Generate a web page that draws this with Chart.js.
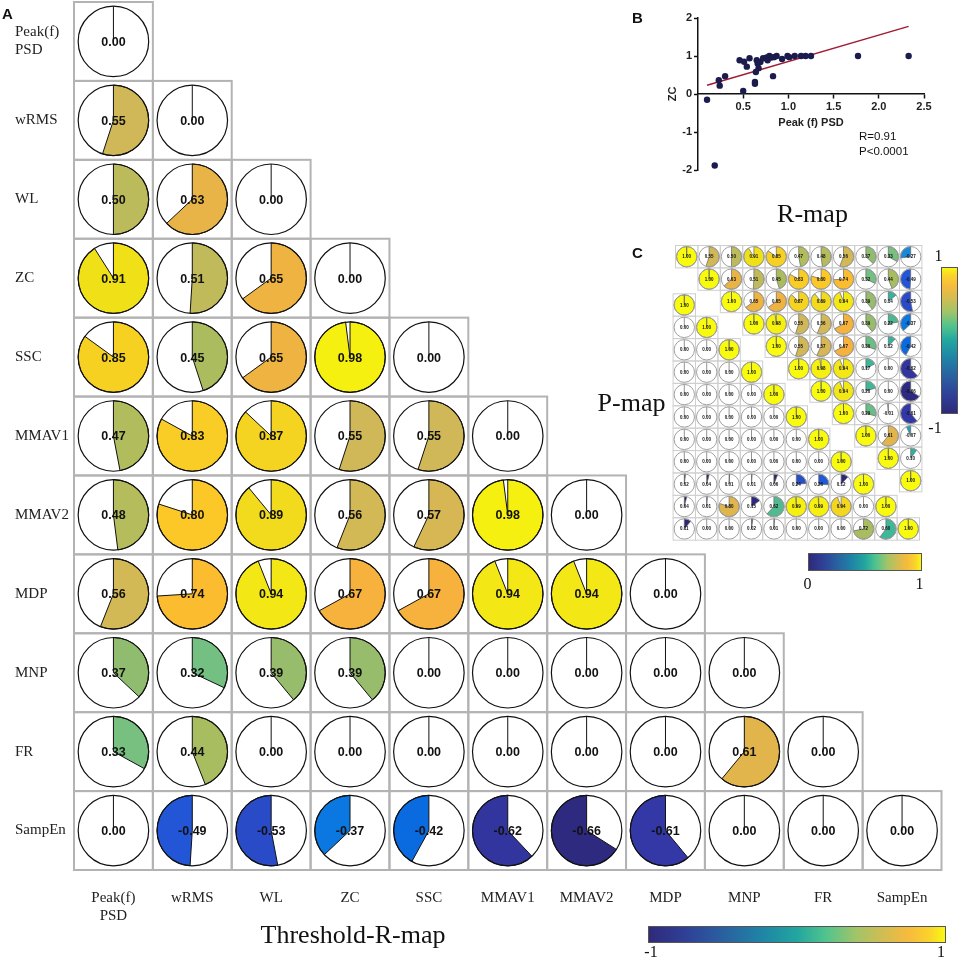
<!DOCTYPE html>
<html>
<head>
<meta charset="utf-8">
<script src="https://cdn.jsdelivr.net/npm/chart.js@4.4.1/dist/chart.umd.min.js"></script>
<style>
  html, body { margin: 0; padding: 0; background: #fff; }
  #page { position: relative; width: 960px; height: 961px; overflow: hidden; }
  #page canvas { position: absolute; }
  .txt { position: absolute; white-space: nowrap; line-height: 1; color: #111; transform: translate(-50%, -50%); }
  .txt.left { transform: translate(0, -50%); }
  .cbar { position: absolute; box-sizing: border-box; border: 1px solid #555; }
</style>
</head>
<body>
<div id="page">
  <canvas id="chartA" width="960" height="961" style="left:0px;top:0px"></canvas>
  <canvas id="chartB" width="320" height="190" style="left:640px;top:0px"></canvas>
  <canvas id="chartC" width="270" height="310" style="left:660px;top:240px"></canvas>
</div>
<script>
// ==== DATA ====
const features = ["Peak(f) PSD", "wRMS", "WL", "ZC", "SSC", "MMAV1", "MMAV2", "MDP", "MNP", "FR", "SampEn"];
const featureTicks = [["Peak(f)", "PSD"], "wRMS", "WL", "ZC", "SSC", "MMAV1", "MMAV2", "MDP", "MNP", "FR", "SampEn"];

// A. Threshold-R-map, lower triangle (row r has columns 0..r)
const thresholdR = [
  [0.00],
  [0.55, 0.00],
  [0.50, 0.63, 0.00],
  [0.91, 0.51, 0.65, 0.00],
  [0.85, 0.45, 0.65, 0.98, 0.00],
  [0.47, 0.83, 0.87, 0.55, 0.55, 0.00],
  [0.48, 0.80, 0.89, 0.56, 0.57, 0.98, 0.00],
  [0.56, 0.74, 0.94, 0.67, 0.67, 0.94, 0.94, 0.00],
  [0.37, 0.32, 0.39, 0.39, 0.00, 0.00, 0.00, 0.00, 0.00],
  [0.33, 0.44, 0.00, 0.00, 0.00, 0.00, 0.00, 0.00, 0.61, 0.00],
  [0.00, -0.49, -0.53, -0.37, -0.42, -0.62, -0.66, -0.61, 0.00, 0.00, 0.00],
];

// B. Peak (f) PSD vs ZC
const peakPsd = [0.10, 0.185, 0.23, 0.24, 0.30, 0.46, 0.51, 0.50, 0.54, 0.57, 0.63, 0.63, 0.64, 0.65, 0.66, 0.67, 0.69,
  0.72, 0.76, 0.77, 0.79, 0.81, 0.83, 0.84, 0.87, 0.93, 0.99, 1.01, 1.07, 1.14, 1.19, 1.25, 1.77, 2.33];
const zcValues = [-0.15, -1.88, 0.36, 0.22, 0.47, 0.89, 0.85, 0.08, 0.72, 0.94, 0.32, 0.27, 0.58, 0.89, 0.80, 0.68, 0.84,
  0.94, 0.96, 0.89, 1.00, 0.96, 0.47, 0.97, 1.00, 0.92, 1.00, 0.97, 1.00, 1.00, 1.00, 1.00, 1.00, 1.00];
const fitX = [0.10, 2.33];
const fitY = [0.23, 1.78];
const xTicksB = [0.5, 1.0, 1.5, 2.0, 2.5];
const yTicksB = [-2, -1, 0, 1, 2];

// C. R-map, upper triangle (row r starts at its diagonal)
const rMapRows = [
  [1.00, 0.55, 0.50, 0.91, 0.85, 0.47, 0.48, 0.56, 0.37, 0.33, -0.27],
  [1.00, 0.63, 0.51, 0.45, 0.83, 0.80, 0.74, 0.32, 0.44, -0.49],
  [1.00, 0.65, 0.65, 0.87, 0.89, 0.94, 0.39, 0.14, -0.53],
  [1.00, 0.98, 0.55, 0.56, 0.67, 0.39, 0.22, -0.37],
  [1.00, 0.55, 0.57, 0.67, 0.30, 0.12, -0.42],
  [1.00, 0.98, 0.94, 0.17, 0.00, -0.62],
  [1.00, 0.94, 0.20, 0.00, -0.66],
  [1.00, 0.29, -0.01, -0.61],
  [1.00, 0.61, -0.07],
  [1.00, 0.10],
  [1.00],
];
// C. P-map, lower triangle (row i ends at its diagonal)
const pMapRows = [
  [1.00],
  [0.00, 1.00],
  [0.00, 0.00, 1.00],
  [0.00, 0.00, 0.00, 1.00],
  [0.00, 0.00, 0.00, 0.00, 1.00],
  [0.00, 0.00, 0.00, 0.00, 0.00, 1.00],
  [0.00, 0.00, 0.00, 0.00, 0.00, 0.00, 1.00],
  [0.00, 0.00, 0.00, 0.00, 0.00, 0.00, 0.00, 1.00],
  [0.02, 0.04, 0.01, 0.01, 0.06, 0.24, 0.26, 0.12, 1.00],
  [0.04, 0.01, 0.80, 0.15, 0.62, 0.99, 0.99, 0.94, 0.00, 1.00],
  [0.11, 0.00, 0.00, 0.02, 0.01, 0.00, 0.00, 0.00, 0.72, 0.60, 1.00],
];

// colour map for the pies, position 0..1
const cmapStops = [0, 0.17, 0.195, 0.235, 0.255, 0.29, 0.315, 0.365, 0.45, 0.55, 0.6, 0.665, 0.685, 0.72, 0.74,
  0.775, 0.815, 0.835, 0.87, 0.9, 0.935, 0.955, 0.99, 1];
const cmapColors = ["#2b1f6b", "#2d2a80", "#3438a6", "#2a4bc8", "#2256d6", "#0a6ae0", "#0a78e0", "#1a88d8", "#18a0c0",
  "#30b0a0", "#40b898", "#78c080", "#90bc70", "#a8bc60", "#b4bc5c", "#d0b858", "#e8b448", "#f6b23c", "#fcbc30",
  "#fcc828", "#f4d420", "#f0e018", "#f6f010", "#f9fb0e"];
// colour bars
const cbarStops = [0, 0.12, 0.25, 0.38, 0.5, 0.6, 0.7, 0.8, 0.88, 0.95, 1];
const cbarColors = ["#2f2a7a", "#2f3f96", "#2a60a0", "#1f84a6", "#22a6a0", "#52c48c", "#a2c468", "#d6bc50",
  "#f8bb3c", "#fad42a", "#f8f812"];

document.addEventListener("DOMContentLoaded", function () {
  Chart.defaults.font.family = '"Liberation Sans", Arial, sans-serif';
  renderThresholdMap();
  renderScatter();
  renderSmallMaps();
  renderDecor();
});

// ==== HELPERS ====
function hexToRgb(h) {
  return [parseInt(h.slice(1, 3), 16), parseInt(h.slice(3, 5), 16), parseInt(h.slice(5, 7), 16)];
}

function colorAt(t) {
  t = Math.max(0, Math.min(1, t));
  let i = 1;
  while (i < cmapStops.length - 1 && cmapStops[i] < t) i++;
  const a = hexToRgb(cmapColors[i - 1]), b = hexToRgb(cmapColors[i]);
  const f = (t - cmapStops[i - 1]) / (cmapStops[i] - cmapStops[i - 1] || 1);
  const c = a.map((v, k) => Math.round(v + (b[k] - v) * f));
  return `rgb(${c[0]},${c[1]},${c[2]})`;
}

function gradientCss(dir) {
  return `linear-gradient(${dir}, ${cbarStops.map((s, i) => cbarColors[i] + " " + (s * 100).toFixed(1) + "%").join(", ")})`;
}

function cellSize(chart, meta) {
  const xs = chart.scales[meta.xAxisID], ys = chart.scales[meta.yAxisID];
  return {
    w: Math.abs(xs.getPixelForValue(1) - xs.getPixelForValue(0)),
    h: Math.abs(ys.getPixelForValue(1) - ys.getPixelForValue(0)),
  };
}

function drawPie(ctx, x, y, r, v, t, o) {
  const top = -Math.PI / 2;
  ctx.beginPath();
  ctx.arc(x, y, r, 0, Math.PI * 2);
  ctx.fillStyle = "#fff";
  ctx.fill();
  ctx.lineWidth = o.edgeWidth;
  ctx.strokeStyle = o.edgeColor;
  if (Math.abs(v) > 0.004) {
    ctx.beginPath();
    ctx.moveTo(x, y);
    ctx.arc(x, y, r, top, top + v * Math.PI * 2, v < 0);
    ctx.closePath();
    ctx.fillStyle = colorAt(t);
    ctx.fill();
    ctx.stroke();
  } else {
    ctx.beginPath();
    ctx.moveTo(x, y);
    ctx.lineTo(x, y - r);
    ctx.stroke();
  }
  ctx.beginPath();
  ctx.arc(x, y, r, 0, Math.PI * 2);
  ctx.strokeStyle = o.ringColor;
  ctx.lineWidth = o.ringWidth;
  ctx.stroke();
  ctx.fillStyle = "#111";
  ctx.font = o.font;
  ctx.textAlign = "center";
  ctx.textBaseline = "middle";
  ctx.fillText(v.toFixed(2), x, y + o.textDy);
}

// plugin: cell boxes + pies on every scatter point
const pieCellsPlugin = {
  id: "pieCells",
  beforeDatasetsDraw(chart, args, opts) {
    const ctx = chart.ctx;
    ctx.save();
    ctx.strokeStyle = opts.cellColor;
    ctx.lineWidth = opts.cellWidth;
    chart.data.datasets.forEach((ds, di) => {
      const meta = chart.getDatasetMeta(di);
      const s = cellSize(chart, meta);
      meta.data.forEach((pt) => ctx.strokeRect(pt.x - s.w / 2, pt.y - s.h / 2, s.w, s.h));
    });
    ctx.restore();
  },
  afterDatasetsDraw(chart, args, opts) {
    const ctx = chart.ctx;
    ctx.save();
    chart.data.datasets.forEach((ds, di) => {
      const meta = chart.getDatasetMeta(di);
      const s = cellSize(chart, meta);
      const [lo, hi] = ds.range;
      meta.data.forEach((pt, i) => {
        const v = ds.data[i].v;
        drawPie(ctx, pt.x, pt.y, Math.min(s.w, s.h) * opts.radius, v, (v - lo) / (hi - lo), opts);
      });
    });
    ctx.restore();
  },
};

// ==== RENDER ====

// 1. Threshold-R-map
function renderThresholdMap() {
  const cells = [];
  thresholdR.forEach((row, r) => row.forEach((v, c) => cells.push({ x: features[c], y: features[r], v })));
  const labelFont = { family: '"Liberation Serif", "Times New Roman", serif', size: 15 };

  new Chart(document.getElementById("chartA"), {
    type: "scatter",
    data: { datasets: [{ data: cells, range: [-1, 1], pointRadius: 0, pointHoverRadius: 0 }] },
    options: {
      responsive: false,
      animation: false,
      events: [],
      layout: { padding: { left: 15, right: 18.5, top: 2, bottom: 31 } },
      plugins: {
        legend: { display: false },
        tooltip: { enabled: false },
        pieCells: {
          cellColor: "#b3b3b3", cellWidth: 2, radius: 0.447,
          edgeColor: "#111", edgeWidth: 1, ringColor: "#111", ringWidth: 1.2,
          font: 'bold 12.5px "Liberation Sans", Arial, sans-serif', textDy: 1,
        },
      },
      scales: {
        x: {
          type: "category", labels: features, offset: true,
          grid: { display: false, drawTicks: false }, border: { display: false },
          ticks: {
            font: labelFont, color: "#222", padding: 19, maxRotation: 0, minRotation: 0, autoSkip: false,
            callback: (value, index) => featureTicks[index],
          },
          afterFit: (s) => { s.height = 60; s.paddingLeft = 0; s.paddingRight = 0; },
        },
        y: {
          type: "category", labels: features, offset: true,
          grid: { display: false, drawTicks: false }, border: { display: false },
          ticks: {
            font: labelFont, color: "#222", padding: 0, crossAlign: "far", autoSkip: false,
            callback: (value, index) => featureTicks[index],
          },
          afterFit: (s) => { s.width = 59; s.paddingTop = 0; s.paddingBottom = 0; },
        },
      },
    },
    plugins: [pieCellsPlugin],
  });
}

// 2. Scatter Peak (f) PSD vs ZC
function renderScatter() {
  const pts = peakPsd.map((x, i) => ({ x, y: zcValues[i] }));
  const fit = fitX.map((x, i) => ({ x, y: fitY[i] }));
  const tickFont = { size: 11, weight: "bold" };
  const axisGrid = { drawOnChartArea: false, drawTicks: true, tickLength: 4, tickWidth: 1.5, tickColor: "#111" };

  new Chart(document.getElementById("chartB"), {
    type: "scatter",
    data: {
      datasets: [
        { data: pts, backgroundColor: "#1c1b4d", borderWidth: 0, pointRadius: 3.2, order: 1 },
        { type: "line", data: fit, borderColor: "#a01c34", borderWidth: 1.5, pointRadius: 0, fill: false, order: 2 },
      ],
    },
    options: {
      responsive: false,
      animation: false,
      events: [],
      layout: { padding: { left: 22, right: 36, top: 18, bottom: 20 } },
      plugins: { legend: { display: false }, tooltip: { enabled: false } },
      scales: {
        x: {
          type: "linear", min: 0, max: 2.5, position: { y: 0 },
          grid: axisGrid, border: { color: "#111", width: 1.5 },
          afterBuildTicks: (s) => { s.ticks = xTicksB.map((v) => ({ value: v })); },
          ticks: { font: tickFont, color: "#222", padding: 2, maxRotation: 0, callback: (v) => Number(v).toFixed(1) },
          title: { display: true, text: "Peak (f) PSD", font: tickFont, color: "#222", padding: { top: 1, bottom: 0 } },
        },
        y: {
          type: "linear", min: -2, max: 2, position: "left",
          grid: axisGrid, border: { color: "#111", width: 1.5 },
          afterBuildTicks: (s) => { s.ticks = yTicksB.map((v) => ({ value: v })); },
          ticks: { font: tickFont, color: "#222", padding: 2 },
          title: { display: true, text: "ZC", font: tickFont, color: "#222", padding: { top: 4, bottom: 0 } },
          afterFit: (s) => { s.width = 36; },
        },
      },
    },
  });
}

// 3. Small R-map / P-map
function renderSmallMaps() {
  const rCells = [], pCells = [];
  rMapRows.forEach((row, r) => row.forEach((v, k) => rCells.push({ x: r + k, y: r, v })));
  pMapRows.forEach((row, i) => row.forEach((v, c) => pCells.push({ x: c, y: i, v })));
  const hidden = { display: false };

  new Chart(document.getElementById("chartC"), {
    type: "scatter",
    data: {
      datasets: [
        { data: rCells, range: [-1, 1], xAxisID: "xr", yAxisID: "yr", pointRadius: 0, pointHoverRadius: 0 },
        { data: pCells, range: [0, 1], xAxisID: "xp", yAxisID: "yp", pointRadius: 0, pointHoverRadius: 0 },
      ],
    },
    options: {
      responsive: false,
      animation: false,
      events: [],
      layout: { padding: { left: 15.5, right: 8.1, top: 5.5, bottom: 11.1 } },
      plugins: {
        legend: { display: false },
        tooltip: { enabled: false },
        pieCells: {
          cellColor: "#cfcfcf", cellWidth: 1, radius: 0.455,
          edgeColor: "#666", edgeWidth: 0.7, ringColor: "#a0a0a0", ringWidth: 1,
          font: 'bold 4.5px "Liberation Sans", Arial, sans-serif', textDy: 0.3,
        },
      },
      scales: {
        xr: { axis: "x", type: "linear", min: -0.5, max: 10.5, ...hidden },
        yr: { axis: "y", type: "linear", min: -0.5, max: 12.6, reverse: true, ...hidden },
        xp: { axis: "x", type: "linear", min: -0.393, max: 10.607, ...hidden },
        yp: { axis: "y", type: "linear", min: -2.656, max: 10.444, reverse: true, ...hidden },
      },
    },
    plugins: [pieCellsPlugin],
  });
}

// 4. Labels and colour bars
function renderDecor() {
  const page = document.getElementById("page");
  const serif = '"Liberation Serif", "Times New Roman", serif';
  const sans = '"Liberation Sans", Arial, sans-serif';
  const texts = [
    { t: "A", x: 7.5, y: 13, f: `bold 15px ${sans}` },
    { t: "B", x: 637.5, y: 16.5, f: `bold 15px ${sans}` },
    { t: "C", x: 637.5, y: 252, f: `bold 15px ${sans}` },
    { t: "R=0.91", x: 859, y: 137, f: `11.5px ${sans}`, left: true },
    { t: "P<0.0001", x: 859, y: 152, f: `11.5px ${sans}`, left: true },
    { t: "R-map", x: 812.5, y: 214, f: `26px ${serif}` },
    { t: "P-map", x: 631.5, y: 403, f: `26px ${serif}` },
    { t: "Threshold-R-map", x: 353, y: 935, f: `26px ${serif}` },
    { t: "-1", x: 651, y: 952, f: `16px ${serif}` },
    { t: "1", x: 941, y: 952, f: `16px ${serif}` },
    { t: "0", x: 807.5, y: 584, f: `16px ${serif}` },
    { t: "1", x: 919.5, y: 584, f: `16px ${serif}` },
    { t: "1", x: 938.5, y: 256, f: `16px ${serif}` },
    { t: "-1", x: 935, y: 428, f: `16px ${serif}` },
  ];
  texts.forEach((d) => {
    const el = document.createElement("div");
    el.className = "txt" + (d.left ? " left" : "");
    el.textContent = d.t;
    el.style.left = d.x + "px";
    el.style.top = d.y + "px";
    el.style.font = d.f;
    el.style.lineHeight = "1";
    page.appendChild(el);
  });

  const bars = [
    { x: 648, y: 926, w: 298, h: 17, dir: "to right" },
    { x: 808, y: 553, w: 114, h: 18, dir: "to right" },
    { x: 941, y: 267, w: 17, h: 147, dir: "to top" },
  ];
  bars.forEach((b) => {
    const el = document.createElement("div");
    el.className = "cbar";
    el.style.left = b.x + "px";
    el.style.top = b.y + "px";
    el.style.width = b.w + "px";
    el.style.height = b.h + "px";
    el.style.background = gradientCss(b.dir);
    page.appendChild(el);
  });
}
</script>
</body>
</html>
